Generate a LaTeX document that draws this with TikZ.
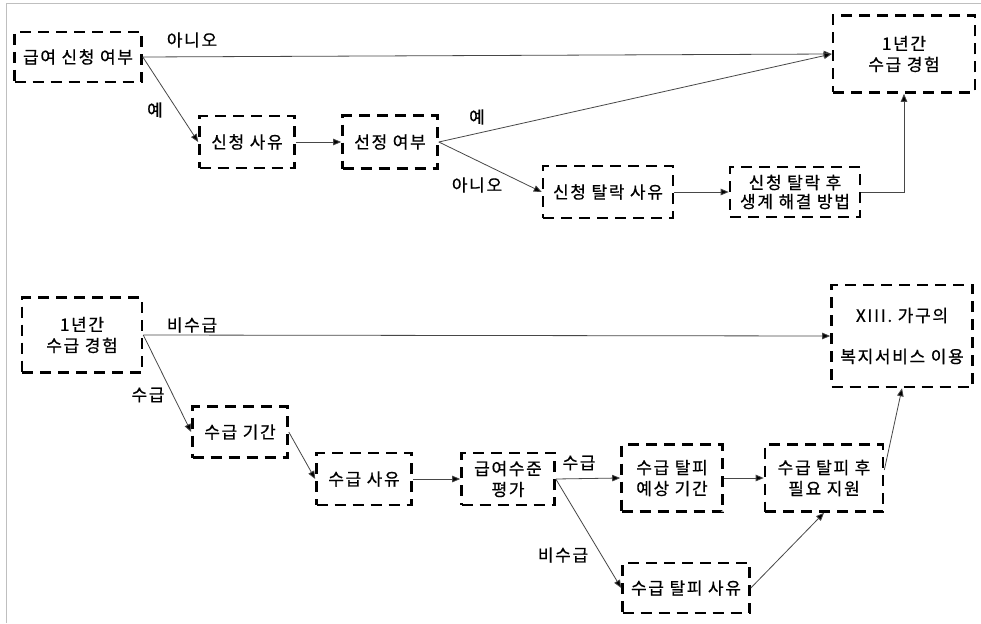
\documentclass[tikz,border=0pt]{standalone}
\usepackage{fontspec}
\newfontfamily\kr[LetterSpace=10,FakeBold=0.6]{Noto Sans CJK KR}
\usetikzlibrary{arrows.meta}
\begin{document}
\begin{tikzpicture}[x=1pt,y=-1pt,
  bx/.style={draw, dash pattern=on 11pt off 7pt, line width=2.6pt, inner sep=0pt, align=center,
    font=\kr\fontsize{17pt}{21pt}\selectfont},
  lb/.style={inner sep=0pt, font=\kr\fontsize{17pt}{21pt}\selectfont},
  ar/.style={draw=black!72, line width=0.8pt, -{Triangle[length=8pt,width=6.5pt,fill=black]}}]
\useasboundingbox (0,0) rectangle (981,623);
\fill[white] (0,0) rectangle (981,623);
\draw[black!25, line width=1pt] (6,623) -- (6,4) -- (981,4);
% top diagram
\node[bx, minimum width=127pt, minimum height=50pt] (b1) at (78,57) {급여 신청 여부};
\node[bx, minimum width=95pt, minimum height=52pt] (b2) at (247,142) {신청 사유};
\node[bx, minimum width=95pt, minimum height=53pt] (b3) at (390,142) {선정 여부};
\node[bx, minimum width=130pt, minimum height=52pt] (b4) at (608,192) {신청 탈락 사유};
\node[bx, minimum width=130pt, minimum height=50pt, font=\kr\fontsize{17pt}{19pt}\selectfont] (b5) at (795,192) {신청 탈락 후\\생계 해결 방법};
\node[bx, minimum width=142pt, minimum height=77pt] (b6) at (904,54) {1년간\\수급 경험};
\draw[ar] (b1.east) -- (b6.west);
\draw[ar] (b1.east) -- (b2.west);
\draw[ar] (b2.east) -- (b3.west);
\draw[ar] (b3.east) -- (b6.west);
\draw[ar] (b3.east) -- (b4.west);
\draw[ar] (b4.east) -- (b5.west);
\draw[ar] (b5.east) -| (b6.south);
\node[lb] (l1) at (192,40) {아니오};
\node[lb] (l2) at (155,110) {예};
\node[lb] (l3) at (477,117) {예};
\node[lb] (l4) at (477,185) {아니오};
% bottom diagram
\node[bx, minimum width=120pt, minimum height=75pt] (b7) at (82,335) {1년간\\수급 경험};
\node[bx, minimum width=95pt, minimum height=51pt] (b8) at (240,432) {수급 기간};
\node[bx, minimum width=95pt, minimum height=52pt] (b9) at (364,479) {수급 사유};
\node[bx, minimum width=93pt, minimum height=52pt] (b10) at (508,479) {급여수준\\평가};
\node[bx, minimum width=101pt, minimum height=67pt] (b11) at (672,478) {수급 탈피\\예상 기간};
\node[bx, minimum width=118pt, minimum height=67pt] (b12) at (824,478) {수급 탈피 후\\필요 지원};
\node[bx, minimum width=127pt, minimum height=50pt] (b13) at (686,588) {수급 탈피 사유};
\node[bx, minimum width=141pt, minimum height=102pt, font=\kr\fontsize{17pt}{41pt}\selectfont] (b14) at (902,336) {XIII. 가구의\\복지서비스 이용};
\draw[ar] (b7.east) -- (b14.west);
\draw[ar] (b7.east) -- (b8.west);
\draw[ar] (b8.east) -- (b9.west);
\draw[ar] (b9.east) -- (b10.west);
\draw[ar] (b10.east) -- (b11.west);
\draw[ar] (b10.east) -- (b13.west);
\draw[ar] (b11.east) -- (b12.west);
\draw[ar] (b13.east) -- (b12.south);
\draw[ar] ([yshift=8pt]b12.east) -- (b14.south);
\node[lb] (l5) at (192,325) {비수급};
\node[lb] (l6) at (148,395) {수급};
\node[lb] (l7) at (579,463) {수급};
\node[lb] (l8) at (563,555) {비수급};
\end{tikzpicture}
\end{document}
